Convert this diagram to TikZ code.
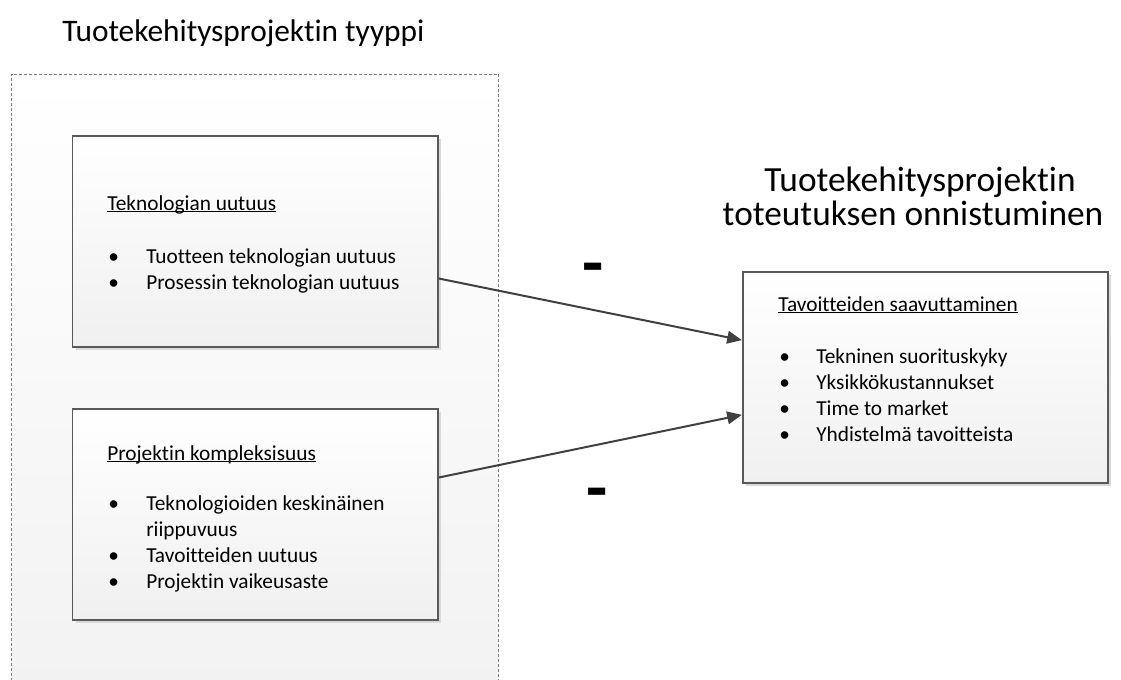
\documentclass[tikz,border=0pt]{standalone}
\usepackage{fontspec}
\setmainfont{Carlito}[Ligatures=NoCommon]
\usetikzlibrary{arrows.meta}

\definecolor{edge}{HTML}{595959}
\definecolor{wire}{HTML}{404040}
\definecolor{shade}{HTML}{F0F0F0}
\definecolor{groupedge}{HTML}{7F7F7F}
\definecolor{groupshade}{HTML}{F2F2F2}
\definecolor{shadowc}{HTML}{D9D9D9}

% underlined heading with the rule close to the baseline
\newcommand\hdline[1]{\setbox0\hbox{#1}\rlap{\rule[-1.7pt]{\wd0}{0.8pt}}\box0}

\begin{document}
\begin{tikzpicture}[x=0.75pt,y=-0.75pt,
  group/.style={draw=groupedge, line width=0.75pt, dash pattern=on 2.25pt off 1.5pt,
    top color=white, bottom color=groupshade, minimum width=365.6pt, minimum height=462pt,
    inner sep=0pt, outer sep=0pt},
  card/.style={draw=edge, line width=1.3pt, top color=white, bottom color=shade,
    minimum width=274pt, minimum height=158.25pt, inner sep=0pt},
  cardshadow/.style={fill=shadowc, minimum width=274pt, minimum height=158.25pt,
    inner sep=0pt, draw=none},
  title/.style={inner sep=0pt, font=\fontsize{23.5}{28}\selectfont},
  bigtitle/.style={inner sep=0pt, font=\fontsize{26.5}{31}\selectfont},
  head/.style={anchor=base west, inner sep=0pt, font=\fontsize{16}{19.5}\selectfont},
  item/.style={anchor=base west, inner sep=0pt, font=\fontsize{16}{19.5}\selectfont},
  dot/.style={anchor=base west, inner sep=0pt, font=\fontsize{16}{19.5}\selectfont},
  sign/.style={anchor=base, inner sep=0pt, font=\fontsize{52}{52}\selectfont\bfseries},
  conn/.style={draw=wire, line width=1.5pt, -{Triangle[length=11pt,width=9.5pt]}}
]
\useasboundingbox (0,0) rectangle (1121,679);

% dashed container of the project-type factors
\node[group] (grp) at (255.25,382) {};

% titles
\node[title, anchor=base west] (tleft) at (62,41) {Tuotekehitysprojektin tyyppi};
\node[bigtitle, anchor=base] (tr1) at (920,191) {Tuotekehitysprojektin};
\node[bigtitle, anchor=base] (tr2) at (913,225) {toteutuksen onnistuminen};

% shadows behind the cards
\node[cardshadow] at (258.25,244.5) {};
\node[cardshadow] at (258.25,517.5) {};
\node[cardshadow] at (928.4,380.5) {};

% cards
\node[card] (b1) at (255.25,241.5) {};
\node[card] (b2) at (255.25,514.5) {};
\node[card] (b3) at (925.4,377.5) {};

% card 1 contents
\node[head] (h1) at (107,210) {\hdline{Teknologian uutuus}};
\node[dot] (d11) at (108,263) {•};
\node[item] (i11) at (146,263) {Tuotteen teknologian uutuus};
\node[dot] (d12) at (108,289) {•};
\node[item] (i12) at (146,289) {Prosessin teknologian uutuus};

% card 2 contents
\node[head] (h2) at (107,460) {\hdline{Projektin kompleksisuus}};
\node[dot] (d21) at (108,510) {•};
\node[item] (i21) at (146,510) {Teknologioiden keskinäinen};
\node[item] (i21b) at (146,536) {riippuvuus};
\node[dot] (d22) at (108,562) {•};
\node[item] (i22) at (146,562) {Tavoitteiden uutuus};
\node[dot] (d23) at (108,588) {•};
\node[item] (i23) at (146,588) {Projektin vaikeusaste};

% card 3 contents
\node[head] (h3) at (778,311) {\hdline{Tavoitteiden saavuttaminen}};
\node[dot] (d31) at (779,363) {•};
\node[item] (i31) at (816,363) {Tekninen suorituskyky};
\node[dot] (d32) at (779,389) {•};
\node[item] (i32) at (816,389) {Yksikkökustannukset};
\node[dot] (d33) at (779,415) {•};
\node[item] (i33) at (816,415) {Time to market};
\node[dot] (d34) at (779,441) {•};
\node[item] (i34) at (816,441) {Yhdistelmä tavoitteista};

% influences
\draw[conn] ([yshift=-27.75pt]b1.east) -- ([yshift=28pt]b3.west);
\draw[conn] ([yshift=27.75pt]b2.east) -- ([yshift=-28pt]b3.west);

% signs of the influences
\node[sign] (s1) at (593,286) {-};
\node[sign] (s2) at (597,511) {-};
\end{tikzpicture}
\end{document}
